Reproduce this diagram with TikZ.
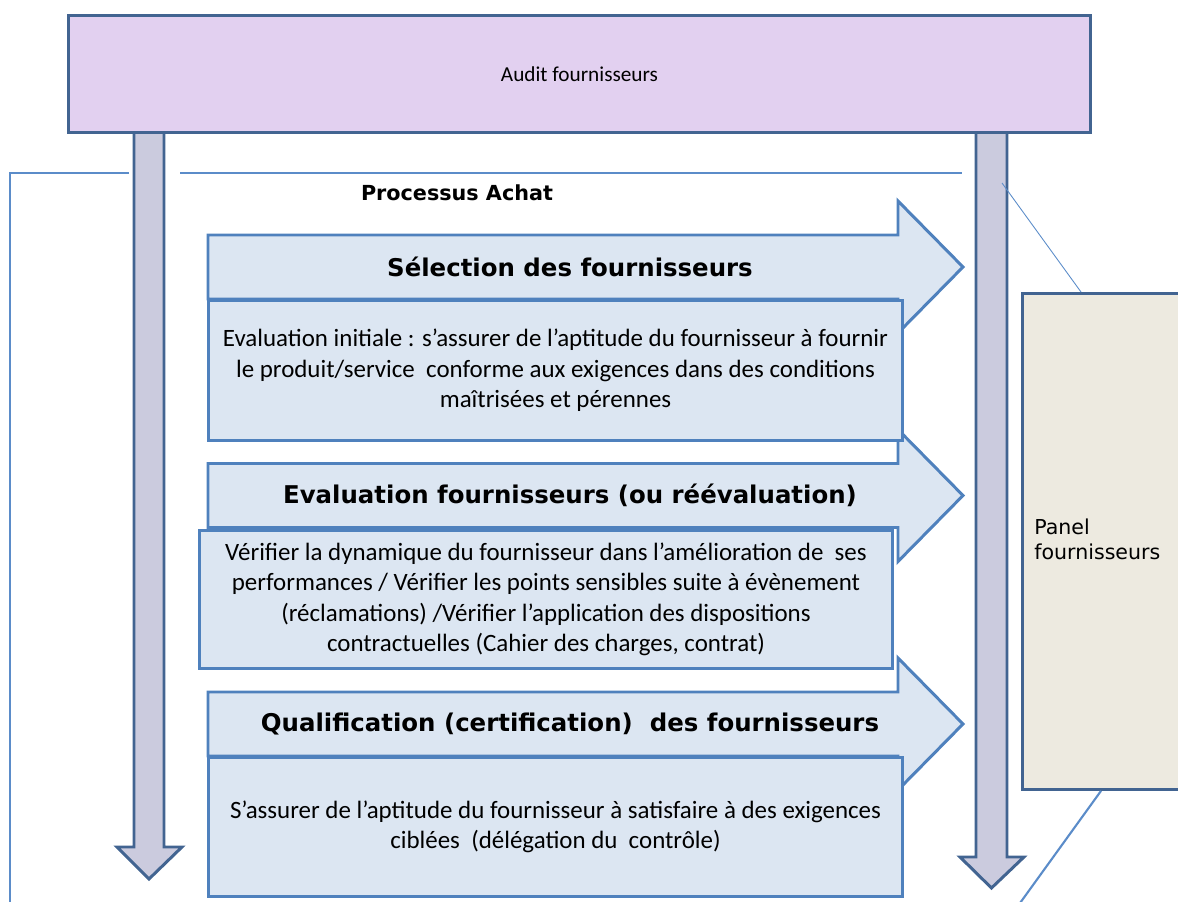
\documentclass[tikz,border=0pt]{standalone}
\usepackage{fontspec}
\setmainfont{Carlito}
\newfontfamily\headfont{DejaVu Sans}
\definecolor{boxblue}{RGB}{66,100,145}
\definecolor{stepblue}{RGB}{79,129,189}
\definecolor{steplight}{RGB}{220,230,242}
\definecolor{auditlilac}{RGB}{226,208,240}
\definecolor{shaftgrey}{RGB}{203,203,222}
\definecolor{panelbeige}{RGB}{237,234,224}
\definecolor{frameblue}{RGB}{91,140,201}
\begin{document}
\begin{tikzpicture}[x=0.02cm,y=-0.02cm,inner sep=0pt,
  auditbox/.style={draw=boxblue,fill=auditlilac,line width=1.7pt,minimum width=20.46cm,minimum height=2.36cm},
  stepbox/.style={draw=stepblue,fill=steplight,line width=1.7pt,minimum width=13.9cm,minimum height=2.8cm,align=center,font=\fontsize{14.2}{17.3}\selectfont},
  steparrow/.style={draw=stepblue,fill=steplight,line width=1.7pt},
  timearrow/.style={draw=boxblue,fill=shaftgrey,line width=1.7pt},
  frameline/.style={draw=frameblue,line width=1.2pt},
  steptitle/.style={font=\headfont\bfseries\fontsize{13.9}{16}\selectfont}]
\clip (0,0) rectangle (1178,902);
% time arrows
\draw[timearrow] (134,130) -- (164,130) -- (164,847) -- (182,847) -- (149,879) -- (117,847) -- (134,847) -- cycle;
\draw[timearrow] (976,130) -- (1007,130) -- (1007,857) -- (1024,857) -- (991.5,888) -- (960,857) -- (976,857) -- cycle;
\node[auditbox] (audit) at (579.5,74) {\fontsize{12.1}{14}\selectfont Audit fournisseurs};
% purchasing process frame
\draw[frameline] (129,173) -- (10,173) -- (10,910);
\draw[frameline] (180,173) -- (962,173);
\node[font=\headfont\bfseries\fontsize{11.8}{14}\selectfont] (processus) at (457,193) {Processus Achat};
% steps
\foreach \yc in {267,495.5,724}
  \draw[steparrow] (208,{\yc-32}) -- (898,{\yc-32}) -- (898,{\yc-66}) -- (963,\yc) -- (898,{\yc+66}) -- (898,{\yc+32}) -- (208,{\yc+32}) -- cycle;
\node[steptitle] (selection) at (570,267) {Sélection des fournisseurs};
\node[stepbox] (initiale) at (555.5,370.5) {Evaluation initiale : s’assurer de l’aptitude du fournisseur à fournir\\le produit/service \ conforme aux exigences dans des conditions\\maîtrisées et pérennes};
\node[steptitle] (evaluation) at (570,495.5) {Evaluation fournisseurs (ou réévaluation)};
\node[stepbox,minimum width=13.88cm,minimum height=2.78cm] (verifier) at (546,599.5) {Vérifier la dynamique du fournisseur dans l’amélioration de \ ses\\performances / Vérifier les points sensibles suite à évènement\\(réclamations) /Vérifier l’application des dispositions\\contractuelles (Cahier des charges, contrat)};
\node[steptitle] (qualification) at (570,724) {Qualification (certification) \ des fournisseurs};
\node[stepbox] (assurer) at (555.5,827) {S’assurer de l’aptitude du fournisseur à satisfaire à des exigences\\ciblées \ (délégation du \ contrôle)};
% panel
\node[draw=boxblue,fill=panelbeige,line width=1.7pt,minimum width=3.8cm,minimum height=9.92cm,anchor=north west] (panel) at (1021,292) {};
\node[anchor=north west,align=left,font=\headfont\fontsize{11.7}{14.2}\selectfont] (panellabel) at (1034,519) {Panel\\fournisseurs};
\draw[draw=frameblue,line width=0.5pt] (1002,183) -- (1081,0 |- panel.north);
\draw[frameline] (1101,0 |- panel.south) -- (1015,910);
\end{tikzpicture}
\end{document}
